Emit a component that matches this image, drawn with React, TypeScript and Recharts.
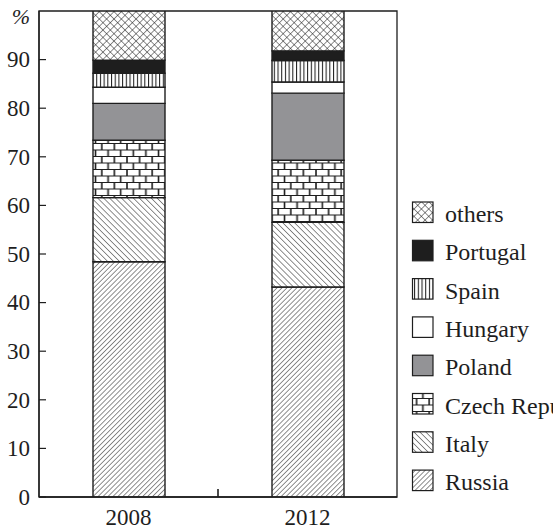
import React from 'react';
import { BarChart, Bar, XAxis, YAxis, ReferenceArea } from 'recharts';

const YEARS = ['2008', '2012'];
const RUSSIA = [48.4, 43.2];
const ITALY = [13.2, 13.3];
const CZECH = [11.8, 12.8];
const POLAND = [7.6, 13.8];
const HUNGARY = [3.3, 2.3];
const SPAIN = [2.9, 4.4];
const PORTUGAL = [2.7, 2.0];
const OTHERS = [10.1, 8.2];
const Y_TICKS = [0, 10, 20, 30, 40, 50, 60, 70, 80, 90];

// bottom to top, same order as the stack
const SERIES = [
  { key: 'russia', name: 'Russia', values: RUSSIA, fill: 'russia' },
  { key: 'italy', name: 'Italy', values: ITALY, fill: 'italy' },
  { key: 'czech', name: 'Czech Republic', values: CZECH, fill: 'czech' },
  { key: 'poland', name: 'Poland', values: POLAND, fill: '#939396' },
  { key: 'hungary', name: 'Hungary', values: HUNGARY, fill: '#ffffff' },
  { key: 'spain', name: 'Spain', values: SPAIN, fill: 'spain' },
  { key: 'portugal', name: 'Portugal', values: PORTUGAL, fill: '#1e1e1e' },
  { key: 'others', name: 'others', values: OTHERS, fill: 'others' },
];

const data = YEARS.map((year, i) => {
  const row: Record<string, string | number> = { year };
  SERIES.forEach((s) => { row[s.key] = s.values[i]; });
  return row;
});

const INK = '#1e1e1e';
const FONT = 'Liberation Serif, Times New Roman, Times, serif';

const fillFor = (fill: string, prefix: string) =>
  fill.startsWith('#') ? fill : `url(#${prefix}-${fill})`;

const Patterns = ({ prefix }: { prefix: string }) => (
  <defs>
    <pattern id={`${prefix}-russia`} patternUnits="userSpaceOnUse" width="3.5" height="3.5" patternTransform="rotate(45)">
      <rect width="3.5" height="3.5" fill="#fff" />
      <line x1="0" y1="0" x2="0" y2="3.5" stroke={INK} strokeWidth="1" />
    </pattern>
    <pattern id={`${prefix}-italy`} patternUnits="userSpaceOnUse" width="4.2" height="4.2" patternTransform="rotate(-45)">
      <rect width="4.2" height="4.2" fill="#fff" />
      <line x1="0" y1="0" x2="0" y2="4.2" stroke={INK} strokeWidth="1" />
    </pattern>
    <pattern id={`${prefix}-others`} patternUnits="userSpaceOnUse" width="5.2" height="5.2" patternTransform="rotate(45)">
      <rect width="5.2" height="5.2" fill="#fff" />
      <line x1="0" y1="0" x2="0" y2="5.2" stroke={INK} strokeWidth="1" />
      <line x1="0" y1="0" x2="5.2" y2="0" stroke={INK} strokeWidth="1" />
    </pattern>
    <pattern id={`${prefix}-spain`} patternUnits="userSpaceOnUse" width="3.7" height="4">
      <rect width="3.7" height="4" fill="#fff" />
      <line x1="0.5" y1="0" x2="0.5" y2="4" stroke={INK} strokeWidth="1.1" />
    </pattern>
    <pattern id={`${prefix}-czech`} patternUnits="userSpaceOnUse" width="12.6" height="13">
      <rect width="12.6" height="13" fill="#fff" />
      <line x1="0" y1="0.5" x2="12.6" y2="0.5" stroke={INK} strokeWidth="1" />
      <line x1="0" y1="7" x2="12.6" y2="7" stroke={INK} strokeWidth="1" />
      <line x1="1" y1="0" x2="1" y2="7" stroke={INK} strokeWidth="1.6" />
      <line x1="7.3" y1="7" x2="7.3" y2="13" stroke={INK} strokeWidth="1.6" />
    </pattern>
  </defs>
);

const YTick = (props: any) => {
  const { x, y, payload } = props;
  return (
    <g>
      <line x1={x} y1={y} x2={x + 7} y2={y} stroke={INK} strokeWidth={1.2} />
      <text x={x - 9} y={y} dy="0.34em" textAnchor="end" fontFamily={FONT} fontSize={23} fill={INK}>
        {payload.value}
      </text>
    </g>
  );
};

// category label, plus the small inward tick on the boundary between the two bands
const XTick = (props: any) => {
  const { x, y, payload, index, width, visibleTicksCount } = props;
  const band = width && visibleTicksCount ? width / visibleTicksCount : 0;
  return (
    <g>
      {index === 0 && band > 0 && (
        <line x1={x + band / 2} y1={y} x2={x + band / 2} y2={y - 8} stroke={INK} strokeWidth={1.6} />
      )}
      <text x={x} y={y + 28} textAnchor="middle" fontFamily={FONT} fontSize={23} fill={INK}>
        {payload.value}
      </text>
    </g>
  );
};

const PercentLabel = (props: any) => {
  const { viewBox } = props;
  return (
    <text x={viewBox.x + 21} y={viewBox.y + 13} textAnchor="middle" fontFamily={FONT} fontStyle="italic" fontSize={22} fill={INK}>
      %
    </text>
  );
};

const LegendBox = () => {
  const items = [...SERIES].reverse();
  return (
    <svg width={150} height={320} style={{ position: 'absolute', left: 403, top: 190 }}>
      <Patterns prefix="lg" />
      {items.map((s, i) => {
        const top = 12 + i * 38.3;
        return (
          <g key={s.key}>
            <rect x={9.5} y={top} width={20.5} height={20.5} fill={fillFor(s.fill, 'lg')} stroke={INK} strokeWidth={1.2} />
            <text x={42} y={top + 20} fontFamily={FONT} fontSize={24} fill={INK}>
              {s.name}
            </text>
          </g>
        );
      })}
    </svg>
  );
};

export default function App() {
  return (
    <div style={{ position: 'absolute', left: 0, top: 0, width: 553, height: 530, background: '#fff', overflow: 'hidden' }}>
      <BarChart width={553} height={530} data={data} margin={{ top: 11, right: 156, bottom: 0, left: 0 }} barCategoryGap={0}>
        <Patterns prefix="ch" />
        <XAxis dataKey="year" height={33} axisLine={{ stroke: INK, strokeWidth: 1.3 }} tickLine={false} tickSize={0} tickMargin={0} tick={<XTick />} />
        <YAxis domain={[0, 100]} ticks={Y_TICKS} width={39} allowDataOverflow axisLine={{ stroke: INK, strokeWidth: 1.3 }} tickLine={false} tickSize={0} tickMargin={0} tick={<YTick />} label={<PercentLabel />} />
        {SERIES.map((s) => (
          <Bar key={s.key} dataKey={s.key} name={s.name} stackId="a" barSize={72} fill={fillFor(s.fill, 'ch')} stroke={INK} strokeWidth={1.4} isAnimationActive={false} />
        ))}
        <ReferenceArea y1={0} y2={100} fill="none" stroke={INK} strokeWidth={1.3} ifOverflow="visible" />
      </BarChart>
      <LegendBox />
    </div>
  );
}
